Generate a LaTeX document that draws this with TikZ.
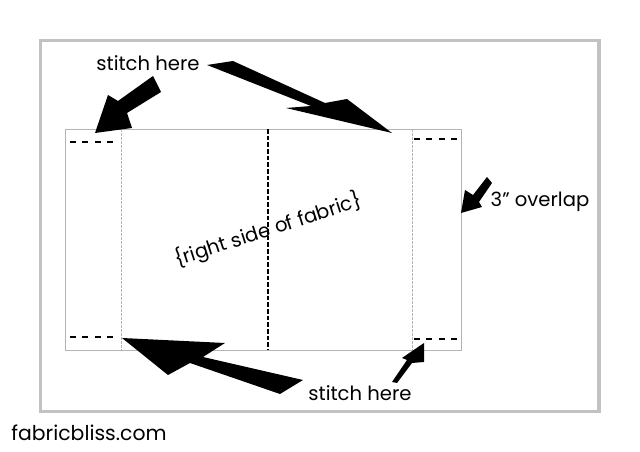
\documentclass[tikz,border=0pt]{standalone}
\usepackage{fontspec}
\setmainfont{Poppins}
\usepackage{xcolor}
\definecolor{framegray}{HTML}{C2C2C2}
\definecolor{seamgray}{HTML}{B4B4B4}

\begin{document}
\begin{tikzpicture}[x=0.75pt,y=-0.75pt,
    t/.style={inner sep=0pt,font=\fontsize{14.7}{17}\selectfont},
    blk/.style={fill=black},
    stitch/.style={line width=1.1pt,dash pattern=on 4.3pt off 5pt},
    seam/.style={seamgray,line width=0.6pt,dash pattern=on 2pt off 1pt}]
    \useasboundingbox (0,0) rectangle (640,452);
    \draw[framegray,line width=2.6pt] (40.5,40.5) rectangle (599,411.5);
    % fabric
    \draw[seamgray,line width=0.6pt] (65,129) rectangle (461,350);
    \draw[seam] (121,129) -- (121,350);
    \draw[seam] (412,129) -- (412,350);
    \draw[line width=0.8pt,dash pattern=on 3.5pt off 1.5pt] (268,129) -- (268,350);
    \draw[stitch] (70,142) -- (118,142);
    \draw[stitch] (414,139) -- (460,139);
    \draw[stitch] (70,337) -- (118,337);
    \draw[stitch] (414,339) -- (460,339);
    % labels
    \node[t] (st1) at (148,63) {stitch here};
    \node[t] (st2) at (360,393) {stitch here};
    \node[t] (ov) at (540,202) {3'' overlap};
    \node[t,rotate=18] (rs) at (268,230) {\{right side of fabric\}};
    \node[t,font=\fontsize{15.3}{18}\selectfont] (web) at (89,433) {fabricbliss.com};
    % arrows
    \fill[blk] (95,133) -- (108,95) -- (118,101) -- (153,76) -- (161,92)
      -- (127,113) -- (132,128) -- cycle;
    \fill[blk] (207,65) -- (233,61) -- (325,103) -- (347,99) -- (392,133)
      -- (286,108) -- (311,106) -- cycle;
    \fill[blk] (122,338) -- (225,343) -- (203,357) -- (303,380) -- (280,394)
      -- (190,363) -- (168,375) -- cycle;
    \fill[blk] (424,343) -- (424,362) -- (412,363) -- (397,383) -- (392,382)
      -- (407,360) -- (402,358) -- cycle;
    \fill[blk] (461,213) -- (465,190) -- (473,195) -- (487,177) -- (492,183)
      -- (479,202) -- (482,207) -- cycle;
  \end{tikzpicture}
\end{document}
